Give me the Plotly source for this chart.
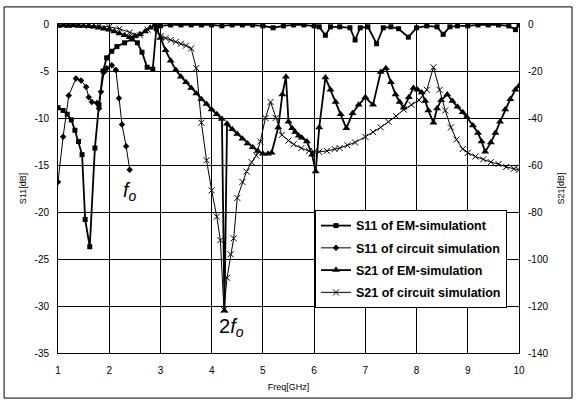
import plotly.graph_objects as go

# ---------------- data ----------------
# S11 of EM-simulation (left axis, dB)
s11_em_x = [1.0, 1.1, 1.18, 1.26, 1.33, 1.4, 1.47, 1.53, 1.62, 1.72, 1.8, 1.88, 1.95, 2.05, 2.15,
            2.3, 2.45, 2.55, 2.64, 2.74, 2.85, 2.92, 3.0, 3.2, 3.4, 3.6, 3.8, 4.0, 4.2, 4.4, 4.6,
            4.8, 5.0, 5.2, 5.4, 5.6, 5.8, 6.0, 6.1, 6.22, 6.32, 6.5, 6.7, 6.8, 6.9, 7.05, 7.22,
            7.35, 7.5, 7.65, 7.84, 8.0, 8.2, 8.4, 8.52, 8.65, 8.8, 9.0, 9.2, 9.4, 9.6, 9.8, 9.93, 10.0]
s11_em_y = [-8.9, -9.2, -9.6, -10.2, -11.3, -12.5, -13.9, -20.8, -23.7, -13.2, -8.6, -5.0, -3.6, -2.9, -2.4,
            -2.0, -1.6, -2.0, -3.0, -4.6, -4.8, -0.5, -0.2, -0.1, -0.1, -0.1, -0.1, -0.1, -0.2, -0.1, -0.1,
            -0.1, -0.2, -0.4, -0.2, -0.1, -0.1, -0.2, -0.3, -1.2, -0.3, -0.3, -0.4, -1.7, -0.4, -0.3, -2.1,
            -0.4, -0.3, -0.5, -1.4, -0.4, -0.2, -0.3, -1.1, -0.3, -0.2, -0.2, -0.1, -0.1, -0.1, -0.2, -0.6, -0.1]

# S11 of circuit simulation (left axis, dB)
s11_ckt_x = [1.0, 1.1, 1.21, 1.35, 1.45, 1.55, 1.6, 1.66, 1.76, 1.8, 1.84, 1.9, 1.95, 2.05, 2.13,
             2.19, 2.25, 2.33, 2.4]
s11_ckt_y = [-16.8, -12.0, -7.6, -5.8, -6.0, -6.7, -7.8, -8.3, -8.4, -9.0, -7.2, -5.1, -4.7, -4.4, -4.9,
             -7.9, -10.7, -13.0, -15.5]

# S21 of EM-simulation (right axis, dB)
s21_em_x = [1.0, 1.1, 1.2, 1.3, 1.4, 1.5, 1.6, 1.7, 1.8, 1.9, 2.0, 2.1, 2.2, 2.3, 2.4, 2.5, 2.6, 2.7,
            2.8, 2.9, 3.0, 3.1, 3.2, 3.3, 3.4, 3.5, 3.6, 3.7, 3.8, 3.9, 4.0, 4.1, 4.2, 4.25, 4.3, 4.4,
            4.5, 4.6, 4.7, 4.8, 4.9, 5.0, 5.1, 5.17, 5.3, 5.38, 5.45, 5.5, 5.57, 5.63, 5.7, 5.76, 5.86,
            5.96, 6.03, 6.1, 6.22, 6.32, 6.42, 6.52, 6.63, 6.75, 6.87, 7.0, 7.15, 7.3, 7.4, 7.5, 7.59,
            7.67, 7.75, 7.85, 7.94, 8.02, 8.1, 8.17, 8.23, 8.33, 8.4, 8.48, 8.6, 8.7, 8.8, 8.9, 8.98,
            9.1, 9.2, 9.27, 9.34, 9.45, 9.54, 9.63, 9.73, 9.83, 9.93, 10.0]
s21_em_y = [-0.8, -0.6, -0.8, -0.6, -0.8, -0.8, -1.0, -1.2, -1.6, -2.0, -2.4, -3.2, -4.0, -4.8, -5.6, -5.2,
            -4.4, -3.2, -1.6, -0.4, -6.0, -11.2, -15.6, -19.6, -22.4, -24.8, -27.2, -29.6, -32.0, -34.0,
            -36.4, -38.4, -40.4, -122.0, -42.4, -44.8, -46.8, -48.8, -50.8, -52.4, -54.0, -55.2, -55.2,
            -54.8, -44.0, -30.0, -22.4, -41.6, -44.4, -46.0, -47.6, -48.4, -50.0, -55.6, -62.8, -44.0,
            -22.8, -28.0, -33.2, -38.4, -44.4, -38.0, -34.4, -31.2, -34.4, -20.4, -18.8, -24.8, -30.0,
            -33.2, -35.6, -31.2, -27.2, -28.0, -29.2, -32.8, -36.8, -42.0, -36.0, -32.4, -30.0, -32.8,
            -35.2, -37.6, -39.6, -43.2, -46.4, -50.0, -54.4, -50.4, -46.4, -41.6, -36.4, -32.0, -28.0, -26.4]

# S21 of circuit simulation (right axis, dB)
s21_ckt_x = [1.0, 1.2, 1.4, 1.6, 1.8, 2.0, 2.2, 2.4, 2.6, 2.75, 2.88, 3.0, 3.1, 3.2, 3.3, 3.4, 3.5, 3.6,
             3.7, 3.8, 3.9, 4.0, 4.1, 4.17, 4.24, 4.3, 4.37, 4.43, 4.5, 4.6, 4.68, 4.78, 4.87, 4.95, 5.05,
             5.15, 5.25, 5.37, 5.5, 5.6, 5.75, 5.9, 6.0, 6.1, 6.25, 6.4, 6.5, 6.65, 6.8, 7.0, 7.15, 7.3,
             7.45, 7.6, 7.75, 7.9, 8.05, 8.2, 8.33, 8.45, 8.56, 8.67, 8.78, 8.9, 9.0, 9.15, 9.3, 9.45,
             9.6, 9.75, 9.9, 10.0]
s21_ckt_y = [-0.4, -0.4, -0.4, -0.8, -0.8, -1.2, -2.0, -3.6, -4.8, -2.4, -0.8, -5.2, -6.0, -6.8, -7.6, -8.4,
             -9.2, -10.4, -18.8, -42.0, -58.0, -70.8, -82.0, -92.0, -121.6, -108.0, -98.0, -91.2, -74.0,
             -67.2, -62.8, -58.8, -56.0, -50.0, -40.0, -33.2, -40.0, -47.2, -49.6, -51.2, -52.8, -54.0,
             -54.4, -54.4, -54.0, -53.2, -52.8, -51.6, -50.4, -48.0, -46.0, -44.0, -41.6, -39.2, -36.4,
             -34.4, -32.4, -28.0, -18.4, -28.0, -36.8, -44.0, -49.2, -53.2, -54.8, -56.4, -57.6, -58.8,
             -59.6, -60.8, -61.6, -62.0]

# axis ticks
x_ticks = [1, 2, 3, 4, 5, 6, 7, 8, 9, 10]
x_tick_text = ["1", "2", "3", "4", "5", "6", "7", "8", "9", "10"]
y1_ticks = [0, -5, -10, -15, -20, -25, -30, -35]
y1_tick_text = ["0", "-5", "-10", "-15", "-20", "-25", "-30", "-35"]
y2_ticks = [0, -20, -40, -60, -80, -100, -120, -140]
y2_tick_text = ["0", "-20", "-40", "-60", "-80", "-100", "-120", "-140"]

FONT = "Liberation Sans, Arial, sans-serif"

fig = go.Figure()

fig.add_trace(go.Scatter(
    x=s11_em_x, y=s11_em_y, name="S11 of EM-simulationt", legendgroup="a",
    mode="lines+markers", line=dict(color="black", width=1.8),
    marker=dict(symbol="square", size=5, color="black")))
fig.add_trace(go.Scatter(
    x=s11_ckt_x, y=s11_ckt_y, name="S11 of circuit simulation", legendgroup="b",
    mode="lines+markers", line=dict(color="black", width=1),
    marker=dict(symbol="diamond", size=5, color="black")))
fig.add_trace(go.Scatter(
    x=s21_em_x, y=s21_em_y, name="S21 of EM-simulation", legendgroup="c", yaxis="y2",
    mode="lines+markers", line=dict(color="black", width=1.8),
    marker=dict(symbol="triangle-up", size=7, color="black")))
fig.add_trace(go.Scatter(
    x=s21_ckt_x, y=s21_ckt_y, name="S21 of circuit simulation", legendgroup="d", yaxis="y2",
    mode="lines+markers", line=dict(color="black", width=1),
    marker=dict(symbol="x-thin", size=6, color="black", line=dict(width=1, color="black"))))

axis_common = dict(showline=True, linecolor="black", linewidth=1, mirror=True,
                   showgrid=True, gridcolor="black", gridwidth=1, zeroline=False,
                   ticks="", tickfont=dict(family=FONT, size=10, color="black"))

fig.update_layout(
    width=576, height=403,
    margin=dict(l=58, r=57, t=24, b=50, pad=0, autoexpand=False),
    paper_bgcolor="white", plot_bgcolor="white",
    showlegend=True,
    xaxis=dict(range=[1, 10], tickvals=x_ticks, ticktext=x_tick_text,
               title=dict(text="Freq[GHz]", font=dict(family=FONT, size=9, color="black"), standoff=8),
               ticklabelstandoff=8, **axis_common),
    yaxis=dict(range=[-35, 0], tickvals=y1_ticks, ticktext=y1_tick_text,
               title=dict(text="S11[dB]", font=dict(family=FONT, size=9, color="black"), standoff=6),
               ticklabelstandoff=6, **axis_common),
    yaxis2=dict(range=[-140, 0], tickvals=y2_ticks, ticktext=y2_tick_text, overlaying="y", side="right",
                showgrid=False, showline=False, zeroline=False, ticks="",
                tickfont=dict(family=FONT, size=10, color="black"), ticklabelstandoff=8,
                title=dict(text="S21[dB]", font=dict(family=FONT, size=9, color="black"), standoff=10)),
    legend=dict(x=0.5575, y=0.4347, xanchor="left", yanchor="top",
                bgcolor="white", bordercolor="black", borderwidth=1,
                font=dict(family=FONT, size=12.5, color="black", weight="bold"),
                tracegroupgap=3, itemwidth=30),
    shapes=[dict(type="rect", xref="paper", yref="paper", x0=-0.117, x1=1.115, y0=-0.137, y1=1.052,
                 line=dict(color="black", width=1), fillcolor="rgba(0,0,0,0)", layer="below")],
    annotations=[
        dict(x=2.4, y=-17.8, xref="x", yref="y", showarrow=False,
             text="<i>f</i><sub><i>o</i></sub>", font=dict(family=FONT, size=20, color="black")),
        dict(x=4.38, y=-32.3, xref="x", yref="y", showarrow=False,
             text="2<i>f</i><sub><i>o</i></sub>", font=dict(family=FONT, size=20, color="black")),
    ],
)

fig.write_html("out.html", config={"displayModeBar": False},
               post_script="document.body.style.margin='0';")
